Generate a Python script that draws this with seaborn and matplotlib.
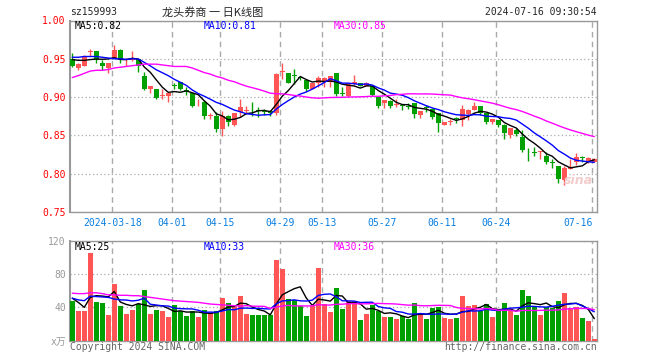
import numpy as np
import pandas as pd
import matplotlib
matplotlib.use('Agg')
import matplotlib.pyplot as plt
import seaborn as sns

# ------------------------------------------------------------------
# data (sz159993, daily candles)
# ------------------------------------------------------------------
holidays = ['2024-04-04', '2024-04-05', '2024-05-01', '2024-05-02', '2024-05-03', '2024-06-10']
tick_dates = ['2024-03-18', '2024-04-01', '2024-04-15', '2024-04-29', '2024-05-13',
              '2024-05-27', '2024-06-11', '2024-06-24', '2024-07-16']
tick_labels = ['2024-03-18', '04-01', '04-15', '04-29', '05-13', '05-27', '06-11', '06-24', '07-16']

opens = [0.950, 0.938, 0.941, 0.959, 0.9605, 0.944, 0.938, 0.951, 0.962, 0.948,
         0.948, 0.950, 0.928, 0.911, 0.9105, 0.901, 0.9015, 0.9155, 0.920, 0.909,
         0.905, 0.893, 0.893, 0.875, 0.8755, 0.859, 0.875, 0.863, 0.8806, 0.882,
         0.881, 0.8825, 0.882, 0.882, 0.879, 0.933, 0.931, 0.9275, 0.9255, 0.9223,
         0.911, 0.918, 0.9195, 0.920, 0.931, 0.9045, 0.9013, 0.9166, 0.919, 0.9145,
         0.915, 0.8995, 0.8925, 0.8947, 0.8903, 0.8888, 0.8875, 0.8925, 0.8771, 0.886,
         0.8842, 0.8798, 0.864, 0.8672, 0.8725, 0.8697, 0.8776, 0.8828, 0.888, 0.8793,
         0.8675, 0.8697, 0.8631, 0.850, 0.8565, 0.8477, 0.8297, 0.8275, 0.828, 0.8236,
         0.815, 0.8104, 0.7915, 0.806, 0.8148, 0.822, 0.8157, 0.8157]
closes = [0.941, 0.943, 0.954, 0.960, 0.950, 0.940, 0.945, 0.962, 0.949, 0.9485,
          0.949, 0.940, 0.910, 0.9145, 0.899, 0.9015, 0.906, 0.915, 0.910, 0.908,
          0.889, 0.8935, 0.875, 0.8755, 0.858, 0.875, 0.868, 0.879, 0.887, 0.883,
          0.880, 0.882, 0.881, 0.879, 0.930, 0.934, 0.9185, 0.927, 0.925, 0.910,
          0.918, 0.9245, 0.9245, 0.928, 0.9035, 0.9035, 0.918, 0.9193, 0.9145, 0.918,
          0.903, 0.888, 0.896, 0.888, 0.891, 0.8883, 0.887, 0.8784, 0.882, 0.8855,
          0.8745, 0.8666, 0.8675, 0.8675, 0.872, 0.8842, 0.8828, 0.8885, 0.8793, 0.8675,
          0.871, 0.8631, 0.8534, 0.8596, 0.8512, 0.8315, 0.829, 0.827, 0.8283, 0.8148,
          0.8146, 0.7928, 0.8069, 0.8091, 0.8214, 0.821, 0.8201, 0.8192]
highs = [0.957, 0.944, 0.955, 0.963, 0.9605, 0.949, 0.945, 0.968, 0.963, 0.951,
         0.9605, 0.950, 0.933, 0.9145, 0.911, 0.910, 0.906, 0.919, 0.920, 0.9135,
         0.906, 0.897, 0.8956, 0.879, 0.8806, 0.882, 0.876, 0.879, 0.897, 0.888,
         0.894, 0.887, 0.885, 0.8837, 0.931, 0.945, 0.931, 0.937, 0.927, 0.9225,
         0.918, 0.9276, 0.926, 0.928, 0.931, 0.913, 0.918, 0.929, 0.919, 0.9193,
         0.915, 0.8995, 0.896, 0.896, 0.8969, 0.8916, 0.8929, 0.8925, 0.882, 0.8898,
         0.8855, 0.8798, 0.8675, 0.8708, 0.8745, 0.8894, 0.884, 0.8938, 0.888, 0.8793,
         0.871, 0.870, 0.865, 0.8596, 0.8596, 0.8574, 0.8337, 0.8346, 0.8302, 0.828,
         0.8192, 0.8104, 0.8104, 0.8192, 0.8266, 0.8227, 0.8223, 0.820]
lows = [0.939, 0.935, 0.940, 0.954, 0.944, 0.9355, 0.932, 0.951, 0.945, 0.941,
        0.9465, 0.933, 0.909, 0.906, 0.897, 0.897, 0.894, 0.9105, 0.909, 0.9025,
        0.887, 0.888, 0.8714, 0.871, 0.855, 0.849, 0.862, 0.862, 0.8735, 0.8775,
        0.875, 0.874, 0.876, 0.8758, 0.877, 0.9235, 0.918, 0.917, 0.922, 0.908,
        0.910, 0.9136, 0.9136, 0.9136, 0.9013, 0.901, 0.9005, 0.9158, 0.914, 0.914,
        0.901, 0.8857, 0.886, 0.8857, 0.8873, 0.8833, 0.885, 0.8732, 0.8732, 0.8811,
        0.872, 0.8543, 0.8635, 0.864, 0.866, 0.8622, 0.8705, 0.8828, 0.876, 0.8653,
        0.865, 0.861, 0.8455, 0.8469, 0.8486, 0.828, 0.817, 0.8227, 0.8192, 0.8126,
        0.8073, 0.7884, 0.7853, 0.806, 0.8117, 0.8148, 0.8135, 0.8157]
volumes = [47.6, 35.6, 35.6, 105, 46.4, 45.2, 30.8, 68, 41.6, 32,
           36.8, 44, 60.8, 32, 36.8, 35.6, 28.4, 42.8, 35.6, 29.6,
           35.6, 28.4, 36.8, 33.2, 35.6, 51.2, 45.2, 40, 53.6, 32,
           30.8, 30.8, 30.8, 30.8, 96.8, 86, 50, 48.8, 41.6, 29.6,
           41.6, 87.6, 44, 34.8, 63.6, 38, 47.6, 46.8, 24.8, 32,
           42.8, 35.6, 28.4, 28.4, 26, 29.6, 26, 45.2, 32, 26,
           39.2, 40.4, 27.2, 26, 27.2, 53.6, 41.6, 42.8, 35.6, 44,
           28.4, 35.6, 45.2, 36.8, 30.8, 60.8, 53.6, 40.4, 30.8, 40.4,
           39.2, 47.6, 57.2, 39.2, 40.4, 27.2, 23.6, 2]

# moving averages before enough history is on screen
ma5_head = [0.949, 0.948, 0.948, 0.949]
ma10_head = [0.952, 0.952, 0.953, 0.953, 0.953, 0.952, 0.951, 0.950, 0.950]
ma30_head = [0.9255, 0.928, 0.931, 0.934, 0.935, 0.935, 0.936, 0.938, 0.939, 0.940,
             0.941, 0.942, 0.943, 0.943, 0.943, 0.942, 0.941, 0.940, 0.940, 0.940,
             0.938, 0.935, 0.932, 0.930, 0.927, 0.925, 0.922, 0.920, 0.917]
vma5_head = [51, 46, 40, 52]
vma10_head = [51, 49, 48, 53.5, 53, 52.5, 52, 50, 49]
vma30_head = [57, 56.5, 56.5, 57.5, 57.5, 56.5, 55, 55, 54.5, 54.5,
              54, 54, 53, 52, 51, 50, 49, 48, 47.5, 47,
              46.5, 46, 45, 44, 43.5, 43, 42.5, 42, 41.5]

price_ma_text = ['MA5:0.82', 'MA10:0.81', 'MA30:0.85']
vol_ma_text = ['MA5:25', 'MA10:33', 'MA30:36']

# ------------------------------------------------------------------
days = pd.bdate_range('2024-03-07', '2024-07-16')
days = days[~days.isin(pd.to_datetime(holidays))]
df = pd.DataFrame({'date': days, 'open': opens, 'close': closes,
                   'high': highs, 'low': lows, 'vol': volumes})
df['idx'] = np.arange(len(df))
df['dir'] = np.where(df['close'] >= df['open'], 'up', 'down')


def moving(s, n, head):
    m = s.rolling(n).mean()
    m.iloc[:len(head)] = head
    return m


df['ma5'] = moving(df['close'], 5, ma5_head)
df['ma10'] = moving(df['close'], 10, ma10_head)
df['ma30'] = moving(df['close'], 30, ma30_head)
df['vma5'] = moving(df['vol'], 5, vma5_head)
df['vma10'] = moving(df['vol'], 10, vma10_head)
df['vma30'] = moving(df['vol'], 30, vma30_head)

tick_pos = np.array([df.index[df['date'] == pd.Timestamp(d)][0] for d in tick_dates]) - 0.33

RED, GREEN = '#ff5555', '#00a000'
GRID = '#aaaaaa'
SPINE = '#999999'
pal = {'up': RED, 'down': GREEN}

sns.set_style('white')
plt.rcParams['font.family'] = ['DejaVu Sans Mono', 'Noto Sans CJK SC']
plt.rcParams['font.size'] = 7

W, H = 660, 360
fig = plt.figure(figsize=(6.6, 3.6), dpi=100)
ax_p = fig.add_axes([70 / W, 1 - 212 / H, 527 / W, 191.5 / H])
ax_v = fig.add_axes([70 / W, 1 - 340.7 / H, 527 / W, 100 / H])

# ---- price panel ----
cols = df['dir'].map(pal)
ax_p.vlines(df['idx'], df['low'], df['high'], colors=cols, lw=1, zorder=3)
body = (df['close'] - df['open']).abs().clip(lower=0.0012)
ax_p.bar(df['idx'], body, bottom=df[['open', 'close']].min(axis=1),
         width=0.8, color=cols, linewidth=0, zorder=3)
sns.lineplot(x=df['idx'], y=df['ma5'], ax=ax_p, color='black', lw=1, zorder=4)
sns.lineplot(x=df['idx'], y=df['ma10'], ax=ax_p, color='#0000ff', lw=1, zorder=4)
sns.lineplot(x=df['idx'], y=df['ma30'], ax=ax_p, color='#ff00ff', lw=1, zorder=4)

ax_p.set_ylim(0.75, 1.00)
ax_p.set_yticks([0.75, 0.80, 0.85, 0.90, 0.95, 1.00])
ax_p.set_yticklabels(['0.75', '0.80', '0.85', '0.90', '0.95', '1.00'])
ax_p.set_xticks(tick_pos)
ax_p.set_xticklabels(tick_labels)
ax_p.get_xticklabels()[-1].set_ha('right')
ax_p.tick_params(axis='y', length=0, pad=3, labelcolor='#ff0000', labelsize=7)
ax_p.tick_params(axis='x', length=0, pad=4, labelcolor='#0a7fe0', labelsize=7)

# ---- volume panel ----
sns.barplot(x=df['idx'], y=df['vol'], hue=df['dir'], palette=pal, dodge=False,
            width=0.85, saturation=1, legend=False, ax=ax_v, zorder=3, linewidth=0)
sns.lineplot(x=df['idx'], y=df['vma5'], ax=ax_v, color='black', lw=1, zorder=4)
sns.lineplot(x=df['idx'], y=df['vma10'], ax=ax_v, color='#0000ff', lw=1, zorder=4)
sns.lineplot(x=df['idx'], y=df['vma30'], ax=ax_v, color='#ff00ff', lw=1, zorder=4)
ax_v.set_ylim(0, 120)
ax_v.set_yticks([0, 40, 80, 120])
ax_v.set_yticklabels(['x万', '40', '80', '120'])
ax_v.set_xticks(tick_pos)
ax_v.set_xticklabels([])
ax_v.tick_params(axis='y', length=0, pad=3, labelcolor='#999999', labelsize=7)
ax_v.tick_params(axis='x', length=0)

for ax in (ax_p, ax_v):
    ax.set_xlim(-0.38, 87.45)
    ax.set_xlabel('')
    ax.set_ylabel('')
    ax.xaxis.grid(True, color=GRID, ls=(0, (4, 3)), lw=1)
    ax.yaxis.grid(True, color=GRID, ls=(0, (1, 2)), lw=0.9)
    ax.set_axisbelow(True)
    for s in ax.spines.values():
        s.set_color(SPINE)
        s.set_linewidth(1)
    ax.spines['left'].set_linewidth(1.5)

# ---- texts ----
for txt, x0, c in zip(price_ma_text, [75, 204, 334], ['black', '#0000ff', '#ff00ff']):
    fig.text(x0 / W, 1 - 26 / H, txt, color=c, fontsize=7, va='center', ha='left')
for txt, x0, c in zip(vol_ma_text, [75, 204, 334], ['black', '#0000ff', '#ff00ff']):
    fig.text(x0 / W, 1 - 247 / H, txt, color=c, fontsize=7, va='center', ha='left')

fig.text(70 / W, 1 - 12 / H, 'sz159993', fontsize=7, va='center', ha='left')
fig.text(213 / W, 1 - 12 / H, '龙头券商 一 日K线图', fontsize=8, va='center', ha='center',
         family=['Noto Sans CJK SC', 'DejaVu Sans'])
fig.text(597 / W, 1 - 12 / H, '2024-07-16 09:30:54', fontsize=7, va='center', ha='right')
fig.text(70 / W, 1 - 347 / H, 'Copyright 2024 SINA.COM', fontsize=7, color='#666666',
         va='center', ha='left')
fig.text(597 / W, 1 - 347 / H, 'http://finance.sina.com.cn', fontsize=7, color='#666666',
         va='center', ha='right')
fig.text(578 / W, 1 - 180 / H, 'sina', fontsize=9, color='#f3cccc', style='italic',
         fontweight='bold', va='center', ha='center', family=['DejaVu Sans'])

fig.savefig('out.png', dpi=100)
